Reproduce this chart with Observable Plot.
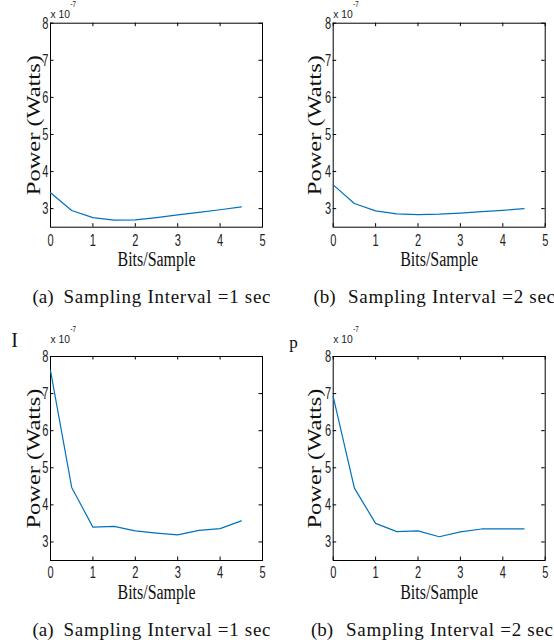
<!DOCTYPE html>
<html><head><meta charset="utf-8">
<script src="https://cdn.jsdelivr.net/npm/d3@7"></script>
<script src="https://cdn.jsdelivr.net/npm/@observablehq/plot@0.6"></script>
<style>
body{margin:0;background:#fff;}
#wrap{position:relative;width:554px;height:644px;overflow:hidden;background:#fff;}
.cell{position:absolute;}
.cell svg{overflow:visible;}
</style></head><body><div id="wrap"></div>
<script>
// ---- data ----
const bits = [0, 0.5, 1, 1.5, 2, 2.5, 3, 3.5, 4, 4.5];
const powerTopA = [3.43, 2.95, 2.76, 2.69, 2.70, 2.76, 2.83, 2.90, 2.97, 3.05];
const powerTopB = [3.64, 3.14, 2.94, 2.86, 2.84, 2.85, 2.88, 2.92, 2.955, 3.00];
const powerBotA = [7.62, 4.47, 3.40, 3.42, 3.30, 3.24, 3.19, 3.31, 3.36, 3.57];
const powerBotB = [6.92, 4.45, 3.50, 3.28, 3.30, 3.14, 3.27, 3.35, 3.35, 3.35];
const xTicks = [0, 1, 2, 3, 4, 5];
const yTicks = [3, 4, 5, 6, 7, 8];
const xDomain = [0, 5];
const yDomain = [2.5, 8];
const yLabel = "Power (Watts)";
const xLabel = "Bits/Sample";
const expBase = "x 10";
const expPow = "-7";
const capTags = ["(a)", "(b)", "(a)", "(b)"];
const capTexts = ["Sampling Interval =1 sec", "Sampling Interval =2 sec", "Sampling Interval =1 sec", "Sampling Interval =2 sec"];
const strays = [null, null, "I", "p"];
const seriesList = [powerTopA, powerTopB, powerBotA, powerBotB];

// ---- layout ----
const layouts = [
  {left:0,   top:0,   h:320, ml:50,   mr:15,  mt:22.7, mb:93.3, tickPad:7,   xlabDy:32,   ylabDx:-16,  expDy:-5.5,  supDy:-16.5, tagX:32,   capX:63,   capLen:207, capDy:69.3},
  {left:277, top:0,   h:320, ml:55.7, mr:9.3, mt:22.7, mb:93.3, tickPad:7,   xlabDy:32,   ylabDx:-18,  expDy:-5.5,  supDy:-16.5, tagX:36,   capX:70.5, capLen:207, capDy:69.3},
  {left:0,   top:320, h:324, ml:50,   mr:15,  mt:36,   mb:84,   tickPad:5.5, xlabDy:31.6, ylabDx:-16,  expDy:-13.5, supDy:-24.5, tagX:32,   capX:63,   capLen:207, capDy:69, strayDx:-36, strayDy:-16, straySize:20},
  {left:277, top:320, h:324, ml:55.7, mr:9.3, mt:36,   mb:84,   tickPad:5.5, xlabDy:31.6, ylabDx:-18,  expDy:-13.5, supDy:-24.5, tagX:33.5, capX:68.5, capLen:207, capDy:69, strayDx:-39.7, strayDy:-13.5, straySize:17}
];

const wrap = document.getElementById("wrap");
const serif = "'Liberation Serif', 'Times New Roman', serif";
const sans = "'Liberation Sans', Arial, sans-serif";
const intFmt = d3.format("d");

seriesList.forEach((vals, i) => {
  const L = layouts[i];
  const data = bits.map((b, k) => ({bits: b, power: vals[k]}));
  const frameH = L.h - L.mt - L.mb;
  const frameW = 277 - L.ml - L.mr;
  const marks = [
    Plot.frame({stroke: "#000", strokeWidth: 1}),
    Plot.tickX(xTicks, {x: d => d, insetTop: frameH - 3.5, stroke: "#000"}),
    Plot.tickX(xTicks, {x: d => d, insetBottom: frameH - 3.5, stroke: "#000"}),
    Plot.tickY(yTicks, {y: d => d, insetRight: frameW - 3.5, stroke: "#000"}),
    Plot.tickY(yTicks, {y: d => d, insetLeft: frameW - 3.5, stroke: "#000"}),
    Plot.line(data, {x: "bits", y: "power", stroke: "#0072BD", strokeWidth: 1.2}),
    Plot.axisX({ticks: xTicks, tickFormat: intFmt, tickSize: 0, tickPadding: L.tickPad, label: null, fontSize: 17, fontFamily: sans, fill: "#222"}),
    Plot.axisY({ticks: yTicks, tickFormat: intFmt, tickSize: 0, tickPadding: 2, label: null, fontSize: 17, fontFamily: sans, fill: "#222"}),
    Plot.text([yLabel], {text: d => d, frameAnchor: "left", dx: L.ylabDx, rotate: -90, textAnchor: "middle", lineAnchor: "middle", fontSize: 18, fontFamily: serif, fill: "#111"}),
    Plot.text([xLabel], {text: d => d, frameAnchor: "bottom", dy: L.xlabDy, textAnchor: "middle", lineAnchor: "middle", fontSize: 20, fontFamily: serif, fill: "#111"}),
    Plot.text([expBase], {text: d => d, frameAnchor: "top-left", dy: L.expDy, textAnchor: "start", lineAnchor: "bottom", fontSize: 11, fontFamily: sans, fill: "#222"}),
    Plot.text([expPow], {text: d => d, frameAnchor: "top-left", dx: 20, dy: L.supDy, textAnchor: "start", lineAnchor: "bottom", fontSize: 8.5, fontFamily: sans, fill: "#222"}),
    Plot.text([capTags[i]], {text: d => d, frameAnchor: "bottom-left", dx: L.tagX - L.ml, dy: L.capDy, textAnchor: "start", lineAnchor: "middle", fontSize: 19, fontFamily: serif, fill: "#111"}),
    Plot.text([capTexts[i]], {text: d => d, frameAnchor: "bottom-left", dx: L.capX - L.ml, dy: L.capDy, textAnchor: "start", lineAnchor: "middle", fontSize: 19, fontFamily: serif, fill: "#111"})
  ];
  if (strays[i]) {
    marks.push(Plot.text([strays[i]], {text: d => d, frameAnchor: "top-left", dx: L.strayDx, dy: L.strayDy, textAnchor: "middle", lineAnchor: "middle", fontSize: L.straySize, fontFamily: serif, fill: "#111"}));
  }
  const svg = Plot.plot({
    width: 277, height: L.h,
    marginLeft: L.ml, marginRight: L.mr, marginTop: L.mt, marginBottom: L.mb,
    x: {domain: xDomain},
    y: {domain: yDomain},
    style: {background: "transparent", overflow: "visible"},
    marks
  });
  const cell = document.createElement("div");
  cell.className = "cell";
  cell.style.left = L.left + "px";
  cell.style.top = L.top + "px";
  cell.appendChild(svg);
  wrap.appendChild(cell);

  // condense/stretch texts like the original MATLAB export
  d3.select(svg).selectAll("text").each(function() {
    const t = this.textContent;
    const n = this.getComputedTextLength();
    let len = null, adj = "spacingAndGlyphs";
    if (/^\d$/.test(t)) len = n * 0.65;
    else if (t === yLabel) len = 140;
    else if (t === xLabel) len = 78;
    else if (t === expBase) len = 19.5;
    else if (t === expPow) len = 5.5;
    else if (capTexts.includes(t)) { len = L.capLen; adj = "spacing"; }
    if (len != null) {
      this.setAttribute("textLength", len);
      this.setAttribute("lengthAdjust", adj);
    }
  });
});
</script>
</body></html>
